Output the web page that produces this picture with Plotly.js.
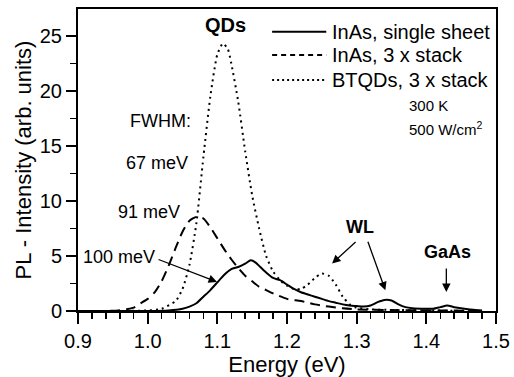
<!DOCTYPE html>
<html>
<head>
<meta charset="utf-8">
<script src="https://cdn.plot.ly/plotly-3.0.1.min.js"></script>
<style>html,body{margin:0;padding:0;background:#fff}#chart{width:514px;height:377px}</style>
</head>
<body>
<div id="chart"></div>
<script>
// Energy (eV) and PL intensity (arb. units)
const singleE = [0.90, 1.00, 1.03, 1.05, 1.06, 1.07, 1.08, 1.09, 1.10, 1.11, 1.12, 1.13, 1.14, 1.148, 1.155, 1.16, 1.17, 1.18, 1.19, 1.20, 1.21, 1.22, 1.23, 1.24, 1.25, 1.26, 1.27, 1.28, 1.29, 1.30, 1.31, 1.32, 1.33, 1.34, 1.35, 1.36, 1.37, 1.38, 1.40, 1.41, 1.42, 1.43, 1.44, 1.45, 1.46, 1.47, 1.48];
const singleI = [0.00, 0.00, 0.05, 0.20, 0.40, 0.70, 1.30, 1.90, 2.60, 3.30, 3.80, 4.00, 4.30, 4.60, 4.40, 4.10, 3.50, 3.00, 2.80, 2.40, 2.00, 1.70, 1.50, 1.30, 1.10, 0.90, 0.75, 0.60, 0.50, 0.45, 0.40, 0.50, 0.80, 1.00, 0.95, 0.60, 0.35, 0.25, 0.20, 0.20, 0.35, 0.50, 0.35, 0.25, 0.15, 0.10, 0.05];

const stackE = [0.90, 0.95, 0.97, 0.98, 0.99, 1.00, 1.01, 1.02, 1.03, 1.04, 1.05, 1.06, 1.07, 1.08, 1.09, 1.10, 1.11, 1.12, 1.13, 1.14, 1.15, 1.16, 1.17, 1.18, 1.20, 1.22, 1.24, 1.26, 1.28, 1.30, 1.35, 1.40, 1.45, 1.48];
const stackI = [0.00, 0.02, 0.15, 0.30, 0.70, 1.10, 1.70, 2.70, 4.10, 5.70, 7.20, 8.20, 8.55, 8.40, 7.60, 6.60, 5.60, 4.70, 3.90, 3.20, 2.70, 2.20, 1.90, 1.60, 1.10, 0.90, 0.60, 0.40, 0.25, 0.15, 0.08, 0.05, 0.03, 0.00];

const btqdE = [0.90, 0.95, 1.00, 1.02, 1.04, 1.05, 1.06, 1.07, 1.08, 1.09, 1.10, 1.108, 1.115, 1.12, 1.13, 1.14, 1.15, 1.16, 1.17, 1.18, 1.19, 1.20, 1.21, 1.22, 1.23, 1.24, 1.25, 1.26, 1.27, 1.28, 1.29, 1.30, 1.32, 1.35, 1.40, 1.45, 1.48];
const btqdI = [0.00, 0.00, 0.05, 0.20, 0.90, 2.00, 4.20, 8.00, 14.0, 19.5, 23.3, 24.3, 23.8, 22.5, 19.0, 14.5, 10.5, 7.50, 5.00, 3.60, 2.80, 2.30, 2.00, 2.00, 2.40, 3.00, 3.40, 3.20, 2.40, 1.30, 0.60, 0.30, 0.15, 0.10, 0.05, 0.02, 0.00];

const seriesNames = ['InAs, single sheet', 'InAs, 3 x stack', 'BTQDs, 3 x stack'];
const xTickVals = [0.9, 1.0, 1.1, 1.2, 1.3, 1.4, 1.5];
const yTickVals = [0, 5, 10, 15, 20, 25];

const FONT = '"Liberation Sans", Arial, Helvetica, sans-serif';
const dashes = ['solid', '10px,6px', '2px,4px'];
const xs = [singleE, stackE, btqdE];
const ys = [singleI, stackI, btqdI];

const traces = xs.map((x, i) => ({
  x: x, y: ys[i], type: 'scatter', mode: 'lines', name: seriesNames[i],
  line: {color: '#000', width: 2, dash: dashes[i], shape: 'spline', smoothing: 0.6},
  showlegend: false, hoverinfo: 'skip'
}));

// manual legend (line samples + text), positioned in paper coordinates
const legRows = [0.9247, 0.8475, 0.7646];
const shapes = legRows.map((yy, i) => ({
  type: 'line', xref: 'paper', yref: 'paper', x0: 0.4644, x1: 0.594, y0: yy, y1: yy,
  line: {color: '#000', width: 2, dash: i === 0 ? 'solid' : (i === 1 ? '5px,4px' : '2px,3px')}
}));
const annotations = legRows.map((yy, i) => ({
  xref: 'paper', yref: 'paper', x: 0.6022, y: yy, xanchor: 'left', yanchor: 'middle',
  text: seriesNames[i], showarrow: false, font: {family: FONT, size: 20, color: '#000'}
}));

const lab = (x, y, text, size, bold) => ({
  xref: 'x', yref: 'y', x: x, y: y, text: bold ? '<b>' + text + '</b>' : text,
  showarrow: false, xanchor: 'center', yanchor: 'middle',
  font: {family: FONT, size: size, color: '#000'}
});
const arr = (x, y, ax, ay) => ({
  xref: 'x', yref: 'y', x: x, y: y, ax: ax, ay: ay, text: '', showarrow: true,
  arrowhead: 2, arrowsize: 1.3, arrowwidth: 1.3, arrowcolor: '#000', standoff: 0
});

annotations.push(
  {xref: 'paper', yref: 'paper', x: 0.787, y: 0.6818, xanchor: 'left', yanchor: 'middle', text: '300 K', showarrow: false, font: {family: FONT, size: 15, color: '#000'}},
  {xref: 'paper', yref: 'paper', x: 0.787, y: 0.6056, xanchor: 'left', yanchor: 'middle', text: '500 W/cm<sup>2</sup>', showarrow: false, font: {family: FONT, size: 15, color: '#000'}},
  lab(1.112, 26.0, 'QDs', 20, true),
  lab(1.018, 17.25, 'FWHM:', 18, false),
  lab(1.0136, 13.4, '67 meV', 18, false),
  lab(1.0026, 9.0, '91 meV', 18, false),
  lab(0.9585, 4.9, '100 meV', 18, false),
  lab(1.3053, 7.64, 'WL', 18, true),
  lab(1.4297, 5.36, 'GaAs', 18, true),
  arr(1.0996, 2.64, -60, -23),
  arr(1.2647, 4.31, 25, -23),
  arr(1.3412, 1.88, -18, -50),
  arr(1.4287, 1.73, 0, -25)
);

const layout = {
  width: 514, height: 377,
  margin: {l: 77.5, r: 18.3, t: 9, b: 66.3, pad: 0},
  paper_bgcolor: '#fff', plot_bgcolor: '#fff',
  font: {family: FONT, color: '#000', size: 20},
  showlegend: false,
  xaxis: {
    range: [0.9, 1.5], tickvals: xTickVals, ticktext: xTickVals.map(v => v.toFixed(1)),
    ticks: 'outside', ticklen: 11, tickwidth: 2, tickcolor: '#000',
    minor: {dtick: 0.02, tick0: 0.9, ticks: 'outside', ticklen: 6, tickwidth: 1.5, tickcolor: '#000', showgrid: false},
    showline: true, linewidth: 2, linecolor: '#000', mirror: true, showgrid: false, zeroline: false,
    tickfont: {family: FONT, size: 20, color: '#000'},
    title: {text: 'Energy (eV)', font: {family: FONT, size: 22, color: '#000'}, standoff: 4},
    automargin: false
  },
  yaxis: {
    range: [0, 27.43], tickvals: yTickVals,
    ticks: 'outside', ticklen: 10, tickwidth: 2, tickcolor: '#000',
    minor: {dtick: 2.5, tick0: 0, ticks: 'outside', ticklen: 6, tickwidth: 1.5, tickcolor: '#000', showgrid: false},
    showline: true, linewidth: 2, linecolor: '#000', mirror: true, showgrid: false, zeroline: false,
    tickfont: {family: FONT, size: 20, color: '#000'},
    title: {text: 'PL - Intensity (arb. units)', font: {family: FONT, size: 22, color: '#000'}, standoff: 2},
    automargin: false
  },
  shapes: shapes,
  annotations: annotations
};

Plotly.newPlot('chart', traces, layout, {displayModeBar: false, staticPlot: true});
</script>
</body>
</html>
